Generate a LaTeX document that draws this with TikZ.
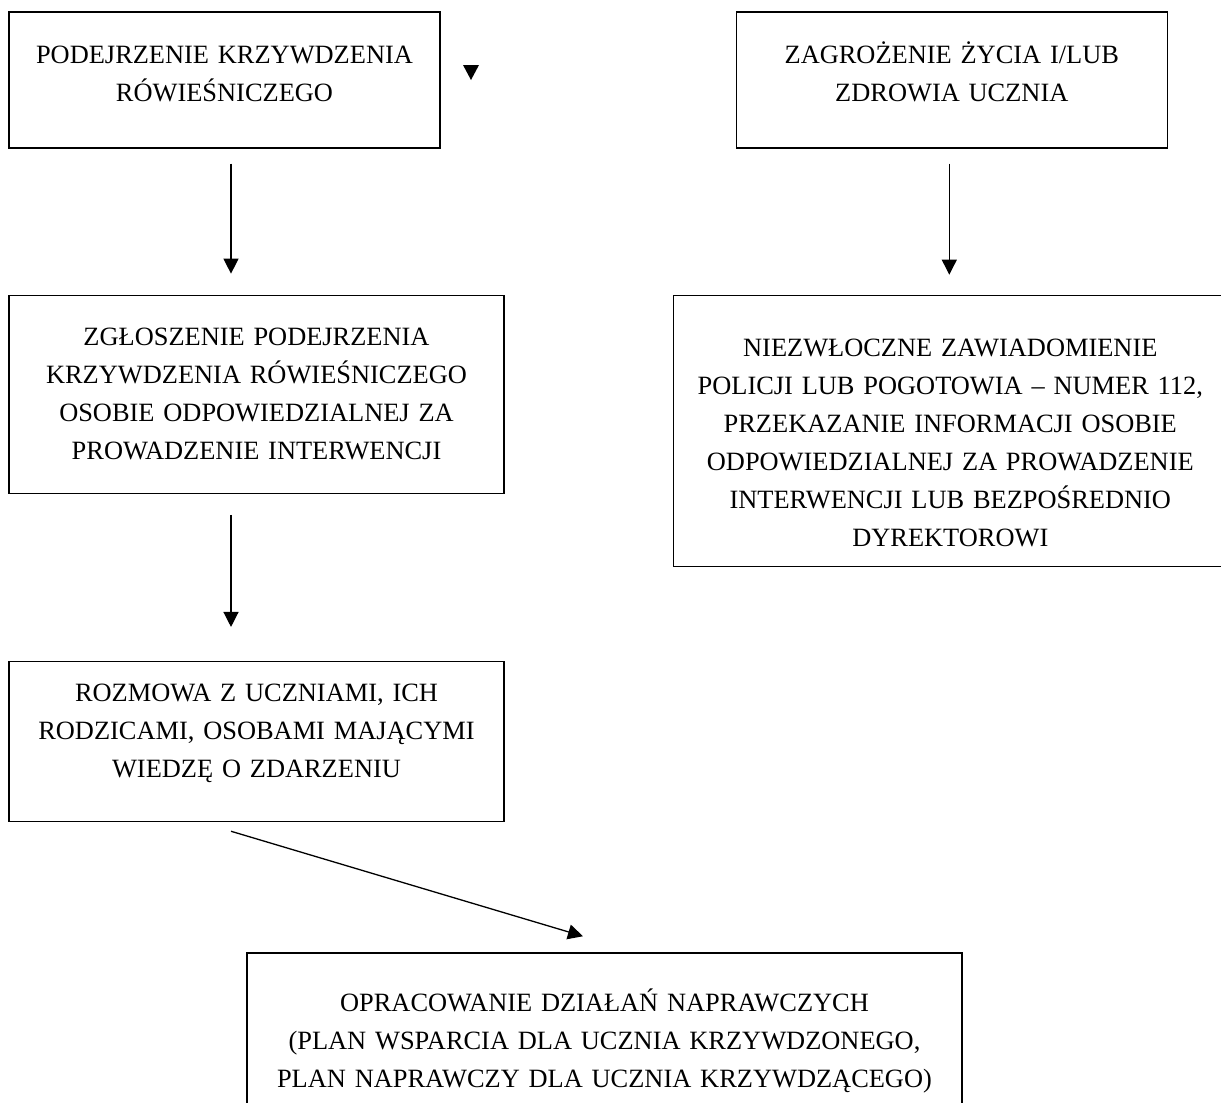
\documentclass[tikz,border=0pt]{standalone}
\usepackage{fontspec}
\setmainfont{Liberation Serif}
\usetikzlibrary{positioning,calc,arrows.meta}

\begin{document}
\begin{tikzpicture}[x=0.5pt,y=-0.5pt,line width=0.65pt,
    box/.style = {draw, rectangle, align=center, inner sep=0pt,
      font=\fontsize{13.2pt}{19pt}\selectfont},
    arr/.style = {-{Triangle[length=7.5pt,width=7.5pt]}}]
      \useasboundingbox (0,0) rectangle (1221,1103);
      \clip (0,0) rectangle (1221,1103);

      \node[box, minimum width=215.5pt, minimum height=68pt, text width=210pt, text depth=25pt](1) at (224.5,80)
        {PODEJRZENIE KRZYWDZENIA\\RÓWIEŚNICZEGO};
      \node[box, minimum width=215.5pt, minimum height=68pt, text width=210pt, text depth=27pt](2)[right=147.5pt of 1]
        {ZAGROŻENIE ŻYCIA I/LUB\\ZDROWIA UCZNIA};
      \node[box, minimum width=247.5pt, minimum height=99pt, text width=240pt](3)[below=73pt of 1.south west, anchor=north west]
        {ZGŁOSZENIE PODEJRZENIA\\KRZYWDZENIA RÓWIEŚNICZEGO\\OSOBIE ODPOWIEDZIALNEJ ZA\\PROWADZENIE INTERWENCJI};
      \node[box, minimum width=277pt, minimum height=135.5pt, text width=268pt, text depth=83pt](4)[below=73pt of 2.south east, anchor=north east, xshift=30pt]
        {NIEZWŁOCZNE ZAWIADOMIENIE\\POLICJI LUB POGOTOWIA -- NUMER 112,\\PRZEKAZANIE INFORMACJI OSOBIE\\ODPOWIEDZIALNEJ ZA PROWADZENIE\\INTERWENCJI LUB BEZPOŚREDNIO\\DYREKTOROWI};
      \node[box, minimum width=247.5pt, minimum height=80pt, text width=240pt, text depth=49pt](5)[below=83.5pt of 3.south west, anchor=north west]
        {ROZMOWA Z UCZNIAMI, ICH\\RODZICAMI, OSOBAMI MAJĄCYMI\\WIEDZĘ O ZDARZENIU};
      \node[box, minimum width=357.5pt, minimum height=88pt, text width=350pt](6)[below=65pt of 5.south west, anchor=north west, xshift=119pt]
        {OPRACOWANIE DZIAŁAŃ NAPRAWCZYCH\\(PLAN WSPARCIA DLA UCZNIA KRZYWDZONEGO,\\PLAN NAPRAWCZY DLA UCZNIA KRZYWDZĄCEGO)};

      \path[arr]
      ($(1.south)+(6.5,15)$) edge ($(3.north)+(-25.5,-21)$)
      ($(2.south)+(-2.5,15)$) edge ($(4.north)+(-1,-20)$)
      ($(3.south)+(-25.5,21)$) edge ($(5.north)+(-25.5,-34)$)
      ($(5.south)+(-25.5,9)$) edge ($(6.north)+(-21.5,-16)$)
      ;

      % loose arrow head next to the first box
      \fill (463,65) -- (479,65) -- (471,80) -- cycle;

    \end{tikzpicture}
\end{document}
